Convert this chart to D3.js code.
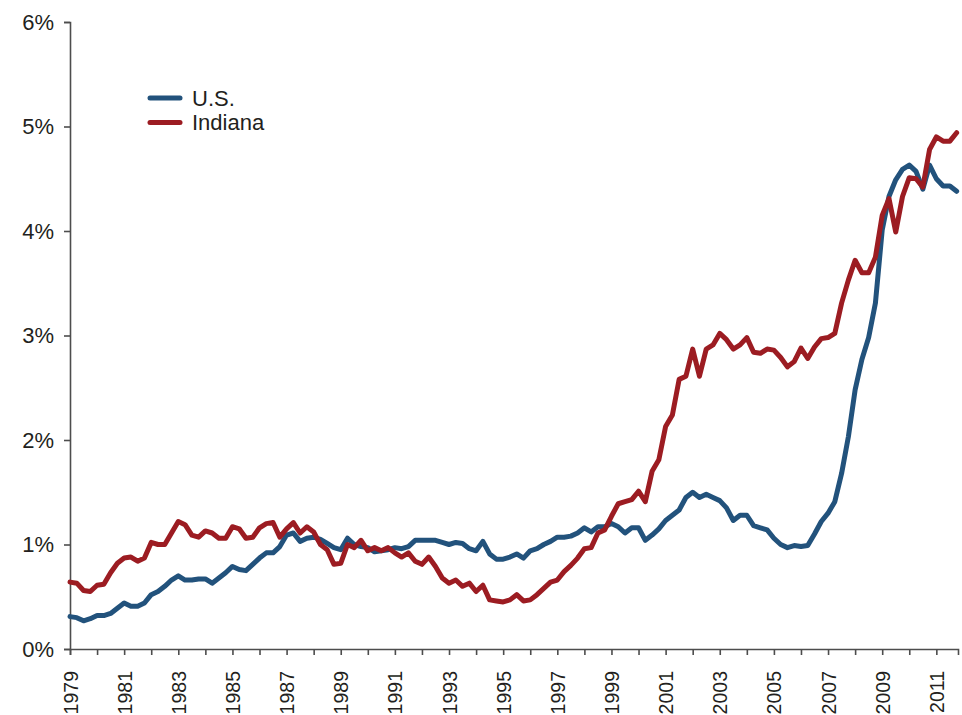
<!DOCTYPE html>
<html>
<head>
<meta charset="utf-8">
<script src="https://cdn.jsdelivr.net/npm/d3@7"></script>
<style>
  body { margin: 0; background: #fff; }
  text { font-family: "Liberation Sans", Arial, sans-serif; fill: #231f20; }
</style>
</head>
<body>
<svg id="chart" width="962" height="715"></svg>
<script>
// quarterly values, 1979Q1 .. 2011Q4 (percent)
var startYear = 1979;
var usValues = [
  0.31, 0.30, 0.27, 0.29, 0.32, 0.32, 0.34, 0.39, 0.44, 0.41, 0.41, 0.44,
  0.52, 0.55, 0.60, 0.66, 0.70, 0.66, 0.66, 0.67, 0.67, 0.63, 0.68, 0.73,
  0.79, 0.76, 0.75, 0.81, 0.87, 0.92, 0.92, 0.98, 1.09, 1.11, 1.03, 1.06,
  1.07, 1.05, 1.01, 0.97, 0.95, 1.06, 1.00, 0.98, 0.97, 0.93, 0.94, 0.95,
  0.97, 0.96, 0.98, 1.04, 1.04, 1.04, 1.04, 1.02, 1.00, 1.02, 1.01, 0.96,
  0.94, 1.03, 0.91, 0.86, 0.86, 0.88, 0.91, 0.87, 0.94, 0.96, 1.00, 1.03,
  1.07, 1.07, 1.08, 1.11, 1.16, 1.12, 1.17, 1.17, 1.20, 1.17, 1.11, 1.16,
  1.16, 1.04, 1.09, 1.15, 1.23, 1.28, 1.33, 1.45, 1.50, 1.45, 1.48, 1.45,
  1.42, 1.35, 1.23, 1.28, 1.28, 1.18, 1.16, 1.14, 1.06, 1.00, 0.97, 0.99,
  0.98, 0.99, 1.10, 1.22, 1.30, 1.41, 1.68, 2.03, 2.48, 2.77, 2.98, 3.31,
  4.01, 4.33, 4.49, 4.59, 4.63, 4.57, 4.40, 4.63, 4.50, 4.43, 4.43, 4.38
];
var indianaValues = [
  0.64, 0.63, 0.56, 0.55, 0.61, 0.62, 0.73, 0.82, 0.87, 0.88, 0.84, 0.87,
  1.02, 1.00, 1.00, 1.11, 1.22, 1.19, 1.09, 1.07, 1.13, 1.11, 1.06, 1.06,
  1.17, 1.15, 1.06, 1.07, 1.16, 1.20, 1.21, 1.07, 1.15, 1.21, 1.11, 1.17,
  1.12, 1.00, 0.95, 0.81, 0.82, 1.00, 0.97, 1.04, 0.94, 0.97, 0.94, 0.97,
  0.92, 0.88, 0.92, 0.84, 0.81, 0.88, 0.79, 0.68, 0.63, 0.66, 0.60, 0.63,
  0.55, 0.61, 0.47, 0.46, 0.45, 0.47, 0.52, 0.46, 0.47, 0.52, 0.58, 0.64,
  0.66, 0.74, 0.80, 0.87, 0.96, 0.97, 1.11, 1.14, 1.27, 1.39, 1.41, 1.43,
  1.51, 1.41, 1.70, 1.81, 2.13, 2.24, 2.58, 2.61, 2.87, 2.61, 2.87, 2.91,
  3.02, 2.96, 2.87, 2.91, 2.98, 2.84, 2.83, 2.87, 2.86, 2.79, 2.70, 2.75,
  2.88, 2.78, 2.89, 2.97, 2.98, 3.02, 3.31, 3.53, 3.72, 3.60, 3.60, 3.75,
  4.15, 4.31, 3.99, 4.33, 4.51, 4.50, 4.42, 4.78, 4.90, 4.86, 4.86, 4.94
];
var seriesNames = ["U.S.", "Indiana"];
var seriesColors = ["#22527c", "#9c1c22"];
var yTicks = [0, 1, 2, 3, 4, 5, 6];

var svg = d3.select("#chart");

var x = d3.scaleLinear().domain([1979, 2011.8]).range([70, 958]);
var y = d3.scaleLinear().domain([0, 6]).range([649, 22]);

function toPoints(values) {
  return values.map(function(v, i) { return { t: startYear + i / 4, v: v }; });
}
var series = [toPoints(usValues), toPoints(indianaValues)];

// y axis
var yAxis = svg.append("g")
    .attr("transform", "translate(" + x.range()[0] + ",0)")
    .call(d3.axisLeft(y).tickValues(yTicks).tickSize(6).tickPadding(10)
      .tickFormat(function(d) { return d + "%"; }));
yAxis.selectAll("text").style("font-size", "22px").attr("fill", "#231f20");

// x axis, tick every year, label every other year
var years = d3.range(1979, 2012);
var xAxis = svg.append("g")
    .attr("transform", "translate(0," + y(0) + ")")
    .call(d3.axisBottom(x).tickValues(years).tickSize(6)
      .tickFormat(function(d) { return (d - 1979) % 2 === 0 ? d : ""; }));
xAxis.selectAll("text")
    .style("font-size", "19.5px")
    .attr("fill", "#231f20")
    .attr("text-anchor", "end")
    .attr("transform", "rotate(-90)")
    .attr("x", -22)
    .attr("y", 0)
    .attr("dy", "0.36em");

svg.selectAll(".domain, .tick line")
    .attr("stroke", "#4d4d4d")
    .attr("stroke-width", 1.6);

var line = d3.line()
    .x(function(d) { return x(d.t); })
    .y(function(d) { return y(d.v); });

svg.selectAll("path.series")
  .data(series)
  .enter().append("path")
    .attr("class", "series")
    .attr("fill", "none")
    .attr("stroke", function(d, i) { return seriesColors[i]; })
    .attr("stroke-width", 5)
    .attr("stroke-linejoin", "round")
    .attr("stroke-linecap", "round")
    .attr("d", line);

// legend
var legend = svg.selectAll("g.legend")
  .data(seriesNames)
  .enter().append("g")
    .attr("class", "legend")
    .attr("transform", function(d, i) { return "translate(150," + (98 + i * 24.5) + ")"; });
legend.append("line")
    .attr("x1", 0).attr("x2", 30)
    .attr("stroke", function(d, i) { return seriesColors[i]; })
    .attr("stroke-width", 5)
    .attr("stroke-linecap", "round");
legend.append("text")
    .attr("x", 42)
    .attr("dy", "0.36em")
    .style("font-size", "22px")
    .text(function(d) { return d; });
</script>
</body>
</html>
